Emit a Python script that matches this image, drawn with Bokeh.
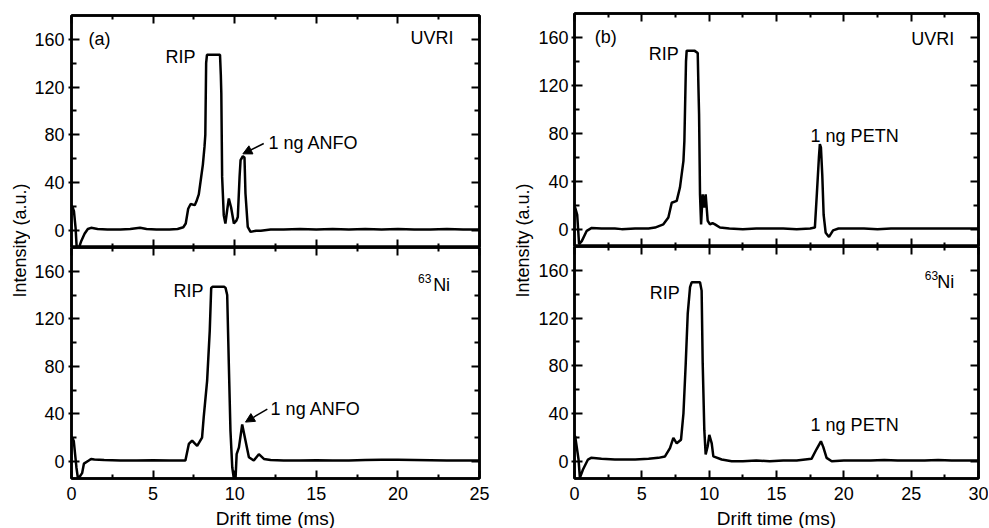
from math import pi
from bokeh.plotting import figure
from bokeh.models import (Range1d, LinearAxis, FixedTicker, CustomJSTickFormatter,
                          Label, Arrow, NormalHead)
from bokeh.layouts import row, column
from bokeh.embed import file_html
from bokeh.resources import INLINE

FONT = "Liberation Sans"

# ---------------- data (drift time ms, intensity a.u.) ----------------
# (a) ANFO, UVRI source
anfo_uvri = [(0.0, 20), (0.05, 20), (0.15, 16), (0.25, 2), (0.32, -15), (0.45, -15), (0.6, -9),
             (0.8, -3), (1.0, 1), (1.2, 2), (1.6, 1), (2.2, 0.5), (3.0, 0.5), (3.6, 1), (4.2, 2),
             (4.6, 1), (5.2, 0.5), (6.0, 0.5), (6.5, 1), (6.85, 2.5), (7.0, 5.6), (7.15, 18),
             (7.3, 22), (7.55, 21), (7.65, 24), (7.8, 30), (7.95, 45), (8.05, 55), (8.15, 70),
             (8.2, 80), (8.25, 140), (8.3, 147), (9.1, 147), (9.15, 130), (9.18, 114.7),
             (9.23, 44.7), (9.33, 12.6), (9.43, 5.6), (9.55, 18), (9.64, 26.6), (9.78, 19),
             (9.95, 5.6), (10.1, 8), (10.19, 11), (10.3, 45), (10.36, 58.7), (10.5, 62),
             (10.6, 61), (10.66, 30.8), (10.8, 2.8), (10.97, -1.4), (11.3, -0.5), (11.6, -0.4),
             (12.2, 0.5), (13.0, 0.5), (14.0, 1), (15.0, 0.5), (16.0, 1), (17.0, 0.5), (18.0, 1),
             (19.0, 0.5), (20.0, 1), (21.0, 0.5), (22.0, 0.5), (23.0, 1), (24.0, 0.5), (25.0, 0.5)]
# (a) ANFO, 63Ni source
anfo_ni = [(0.0, 20), (0.04, 20), (0.14, 17), (0.3, -5), (0.4, -15), (0.5, -13), (0.65, -10),
           (0.76, -2), (1.06, 0.6), (1.2, 2), (1.4, 1.5), (2.0, 1), (3.0, 0.6), (4.0, 0.6),
           (5.0, 0.8), (6.0, 0.6), (6.98, 0.6), (7.19, 14.6), (7.39, 17.4), (7.55, 15), (7.7, 13),
           (8.0, 20), (8.1, 37), (8.31, 67.7), (8.47, 109.6), (8.56, 146), (8.65, 147), (9.35, 147),
           (9.44, 146), (9.54, 140), (9.64, 81.7), (9.74, 25.7), (9.85, -5), (9.95, -15),
           (10.05, -15), (10.12, 6), (10.26, 11.7), (10.46, 31), (10.66, 17.4), (10.87, 3.4),
           (11.17, 0.6), (11.48, 6), (11.79, 2), (12.2, 1), (13.0, 0.6), (14.0, 0.6), (15.0, 0.8),
           (16.0, 0.6), (17.0, 0.6), (18.0, 1), (19.0, 1.2), (20.0, 1.2), (21.0, 1), (22.0, 0.8),
           (23.0, 0.6), (24.0, 0.6), (25.0, 0.6)]
# (b) PETN, UVRI source
petn_uvri = [(0.0, 18), (0.05, 18), (0.2, 12), (0.34, -12.5), (0.54, -10), (0.91, -1.4), (1.28, 1),
             (2.0, 0.5), (3.0, 0.5), (3.5, 0), (4.5, 0.5), (5.5, 0.5), (5.98, 1.3), (6.6, 4),
             (6.97, 9.7), (7.22, 22), (7.59, 23.6), (7.83, 34.7), (8.09, 57), (8.16, 73.7),
             (8.28, 140), (8.33, 149), (8.9, 149), (9.15, 147), (9.2, 120), (9.25, 96), (9.32, 29),
             (9.4, 4), (9.45, 15), (9.52, 29), (9.64, 18), (9.74, 29), (9.89, 7), (10.06, 4),
             (10.25, 5), (10.43, 4), (10.8, 1.3), (11.5, 0.5), (12.5, 0), (13.5, 0.5), (14.5, 0.5),
             (15.5, 0.5), (16.5, 0), (17.5, 0.5), (17.85, 1.3), (18.0, 30), (18.15, 60), (18.22, 71),
             (18.3, 68), (18.4, 45), (18.5, 12), (18.65, -3), (18.9, -6.5), (19.2, -1), (19.6, 0.5),
             (20.5, 0.5), (21.5, 0.5), (22.5, 0), (23.5, 0.5), (24.5, 0.5), (25.5, 0.5), (26.5, 0.5),
             (27.5, 0.5), (28.5, 0.5), (29.5, 0.5), (30.0, 0.5)]
# (b) PETN, 63Ni source
petn_ni = [(0.0, 21), (0.05, 21), (0.3, 1.4), (0.4, -14), (0.63, -7), (1.0, 1.4), (1.23, 2.8),
           (2.0, 2), (3.0, 1.5), (3.5, 1.5), (4.5, 1.5), (5.5, 2), (6.23, 2.8), (6.72, 4), (7.09, 11),
           (7.34, 19.5), (7.59, 15), (7.91, 18), (8.09, 40), (8.26, 82), (8.41, 124), (8.58, 146),
           (8.7, 150), (9.32, 150), (9.44, 143), (9.52, 82), (9.64, 26), (9.74, 5.6), (9.89, 12.5),
           (10.01, 22), (10.19, 15), (10.31, 4), (10.93, 1.4), (11.67, 0), (12.5, 0), (13.5, 0.5),
           (14.5, 0), (15.5, 0.5), (16.5, 0.5), (17.6, 2), (17.97, 10), (18.3, 16.7), (18.47, 12),
           (18.72, 2.8), (19.1, 0), (20.0, 0.5), (21.0, 0.5), (22.0, 0.5), (23.0, 1), (24.0, 0.5),
           (25.0, 0.5), (26.0, 0.5), (27.0, 1), (28.0, 0.5), (29.0, 0.5), (30.0, 0.5)]

y_ticks = [0, 40, 80, 120, 160]
y_minor = [20, 60, 100, 140]
x_ticks_a = [0, 5, 10, 15, 20, 25]
x_minor_a = [2.5, 7.5, 12.5, 17.5, 22.5]
x_ticks_b = [0, 5, 10, 15, 20, 25, 30]
x_minor_b = [2.5, 7.5, 12.5, 17.5, 22.5, 27.5]

Y_MIN, Y_MAX = -14.5, 180


def blank():
    return CustomJSTickFormatter(code="return ''")


def make_axis(ticks, minor, labels, major_in, minor_in, major_out=0, standoff=0,
              font_size="17px", axis_label=None):
    ax = LinearAxis(ticker=FixedTicker(ticks=ticks, minor_ticks=minor))
    ax.axis_line_color = "black"
    ax.axis_line_width = 2.5
    ax.major_tick_line_color = "black"
    ax.major_tick_line_width = 2
    ax.minor_tick_line_color = "black"
    ax.minor_tick_line_width = 2
    ax.major_tick_in = major_in
    ax.major_tick_out = major_out
    ax.minor_tick_in = minor_in
    ax.minor_tick_out = 0
    ax.major_label_standoff = standoff
    if labels:
        ax.major_label_text_font = FONT
        ax.major_label_text_font_size = font_size
        ax.major_label_text_color = "black"
    else:
        ax.formatter = blank()
        ax.major_label_text_font_size = "0px"
    if axis_label:
        ax.axis_label = axis_label
        ax.axis_label_text_font = FONT
        ax.axis_label_text_font_size = "19px"
        ax.axis_label_text_font_style = "normal"
        ax.axis_label_text_color = "black"
        ax.axis_label_standoff = 5
    return ax


def panel(trace, xmax, xt, xm, fw, fh, bl, br, bt, bottom_labels, ystand):
    p = figure(frame_width=fw, frame_height=fh, x_range=Range1d(0, xmax),
               y_range=Range1d(Y_MIN, Y_MAX), x_axis_type=None, y_axis_type=None,
               toolbar_location=None, output_backend="svg",
               min_border_left=bl, min_border_right=br, min_border_top=bt,
               min_border_bottom=0)
    p.outline_line_color = "black"
    p.outline_line_width = 2.5
    p.background_fill_color = "white"
    p.border_fill_color = "white"
    t = [a for a, _ in trace]
    v = [b for _, b in trace]
    p.line(t, v, line_color="black", line_width=2.5)
    p.add_layout(make_axis(y_ticks, y_minor, True, 8, 5, major_out=3, standoff=ystand,
                           font_size="18px"), "left")
    p.add_layout(make_axis(y_ticks, y_minor, False, 8, 5), "right")
    p.add_layout(make_axis(xt, xm, False, 8, 4), "above")
    if bottom_labels:
        p.add_layout(make_axis(xt, xm, True, 8, 4, standoff=8, font_size="18px",
                               axis_label="Drift time (ms)"), "below")
    else:
        p.add_layout(make_axis(xt, xm, False, 8, 4), "below")
    return p


def lab(p, x, y, text, align="left", size="18px"):
    p.add_layout(Label(x=x, y=y, text=text, text_align=align, text_baseline="middle",
                       text_font=FONT, text_font_size=size, text_color="black"))


def arrow(p, x0, y0, x1, y1):
    p.add_layout(Arrow(end=NormalHead(size=9, fill_color="black", line_color="black"),
                       x_start=x0, y_start=y0, x_end=x1, y_end=y1,
                       line_color="black", line_width=1.5))


def ylabel_fig(w, h, cx, cy):
    f = figure(width=w, height=h, x_range=Range1d(0, w), y_range=Range1d(h, 0),
               x_axis_type=None, y_axis_type=None, toolbar_location=None,
               output_backend="svg", min_border=0)
    f.outline_line_color = None
    f.add_layout(Label(x=cx, y=cy, text="Intensity (a.u.)", angle=pi / 2,
                       text_align="center", text_baseline="middle",
                       text_font=FONT, text_font_size="18px", text_color="black"))
    return f


# (a) column
tl = panel(anfo_uvri, 25, x_ticks_a, x_minor_a, 408, 232, 41, 31, 15, False, 4)
bl_ = panel(anfo_ni, 25, x_ticks_a, x_minor_a, 408, 231, 41, 31, 0, True, 4)
lab(tl, 1.04, 160, "(a)")
lab(tl, 7.6, 145, "RIP", "right")
lab(tl, 12.07, 72.7, "1 ng ANFO")
lab(tl, 23.4, 160.8, "UVRI", "right")
arrow(tl, 11.78, 72.7, 10.5, 64)
lab(bl_, 8.09, 143, "RIP", "right")
lab(bl_, 12.2, 44, "1 ng ANFO")
arrow(bl_, 12.0, 44, 10.66, 33)
lab(bl_, 23.2, 148.5, "Ni", "right")
lab(bl_, 22.05, 154, "63", "right", "12px")

# (b) column
tr = panel(petn_uvri, 30, x_ticks_b, x_minor_b, 404, 233, 38, 10, 13, False, 3)
br_ = panel(petn_ni, 30, x_ticks_b, x_minor_b, 404, 232, 38, 10, 0, True, 3)
lab(tr, 1.5, 160, "(b)")
lab(tr, 7.74, 146, "RIP", "right")
lab(tr, 20.8, 78, "1 ng PETN", "center")
lab(tr, 28.2, 158.7, "UVRI", "right")
lab(br_, 7.82, 141, "RIP", "right")
lab(br_, 20.8, 30.6, "1 ng PETN", "center")
lab(br_, 28.2, 150, "Ni", "right")
lab(br_, 27.0, 156, "63", "right", "12px")

yl_a = ylabel_fig(30, 478, 19, 240)
yl_b = ylabel_fig(25, 478, 12, 240)

layout = row(yl_a, column(tl, bl_), yl_b, column(tr, br_))

open("out.html", "w").write(file_html(layout, INLINE))
